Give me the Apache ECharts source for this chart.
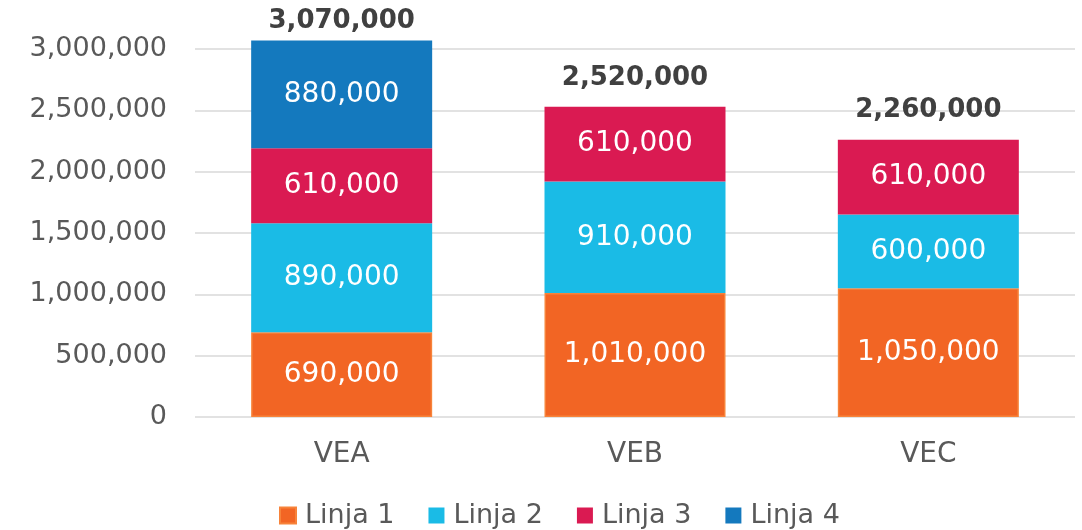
<!DOCTYPE html>
<html>
<head>
<meta charset="utf-8">
<script src="https://cdn.jsdelivr.net/npm/echarts@6/dist/echarts.min.js"></script>
<style>
  html, body { margin: 0; padding: 0; background: #fff; }
  #chart { width: 1082px; height: 530px; }
</style>
</head>
<body>
<div id="chart"></div>
<script>
// Categories and stacked values per line
const categories = ['VEA', 'VEB', 'VEC'];
const linja1 = [690000, 1010000, 1050000];
const linja2 = [890000, 910000, 600000];
const linja3 = [610000, 610000, 610000];
const linja4 = [880000, null, null];
const totals = [3070000, 2520000, 2260000];
const seriesNames = ['Linja 1', 'Linja 2', 'Linja 3', 'Linja 4'];
// Tick labels run 0 .. 3,000,000; the scale itself reaches a little higher
const yTicks = { min: 0, max: 3100000, interval: 500000, lastLabel: 3000000 };

const FONT = 'DejaVu Sans';
const fmt = v => Number(v).toLocaleString('en-US');

const colors = ['#F26524', '#1ABBE6', '#DA1A52', '#1479BE'];
const values = [linja1, linja2, linja3, linja4];

const stackSeries = values.map((data, i) => ({
  name: seriesNames[i],
  type: 'bar',
  stack: 'total',
  barWidth: 181,
  data: data,
  itemStyle: i === 0
    ? { color: colors[i], borderColor: '#F7833A', borderWidth: 1.5 }
    : { color: colors[i] },
  label: {
    show: true,
    position: 'inside',
    color: '#ffffff',
    fontFamily: FONT,
    fontSize: 28,
    formatter: p => (p.value == null ? '' : fmt(p.value))
  }
}));

// Invisible points carrying the stack totals above each bar
const totalSeries = {
  name: 'Total',
  type: 'scatter',
  data: totals,
  symbolSize: 1,
  silent: true,
  itemStyle: { color: 'rgba(0,0,0,0)', opacity: 1 },
  label: {
    show: true,
    position: 'top',
    distance: 16,
    color: '#404040',
    fontFamily: FONT,
    fontWeight: 'bold',
    fontSize: 26,
    formatter: p => fmt(p.value)
  },
  labelLayout: params => {
    // keep the total label inside the canvas
    const r = params.labelRect;
    if (r.y < 8) {
      return {
        x: r.x + r.width / 2,
        y: 8 + r.height / 2,
        align: 'center',
        verticalAlign: 'middle'
      };
    }
    return {};
  }
};

const chart = echarts.init(document.getElementById('chart'), null, { renderer: 'canvas' });
chart.setOption({
  animation: false,
  backgroundColor: '#ffffff',
  grid: { left: 195, right: 7, top: 36.7, bottom: 113, containLabel: false },
  xAxis: {
    type: 'category',
    data: categories,
    axisLine: { show: false },
    axisTick: { show: false },
    axisLabel: { color: '#595959', fontFamily: FONT, fontSize: 28, margin: 24 }
  },
  yAxis: {
    type: 'value',
    min: yTicks.min,
    max: yTicks.max,
    interval: yTicks.interval,
    axisLine: { show: false },
    axisTick: { show: false },
    splitLine: {
      showMaxLine: false,
      lineStyle: { color: '#D9D9D9', width: 1.5 }
    },
    axisLabel: {
      color: '#595959',
      fontFamily: FONT,
      fontSize: 27,
      margin: 28,
      showMaxLabel: false,
      formatter: v => (v > yTicks.lastLabel ? '' : fmt(v))
    }
  },
  legend: {
    data: seriesNames,
    top: 497,
    left: 274,
    icon: 'rect',
    itemWidth: 16,
    itemHeight: 16,
    itemGap: 34,
    textStyle: {
      color: '#595959',
      fontFamily: FONT,
      fontSize: 27,
      padding: [0, 0, 0, 4]
    }
  },
  series: [...stackSeries, totalSeries]
});
</script>
</body>
</html>
